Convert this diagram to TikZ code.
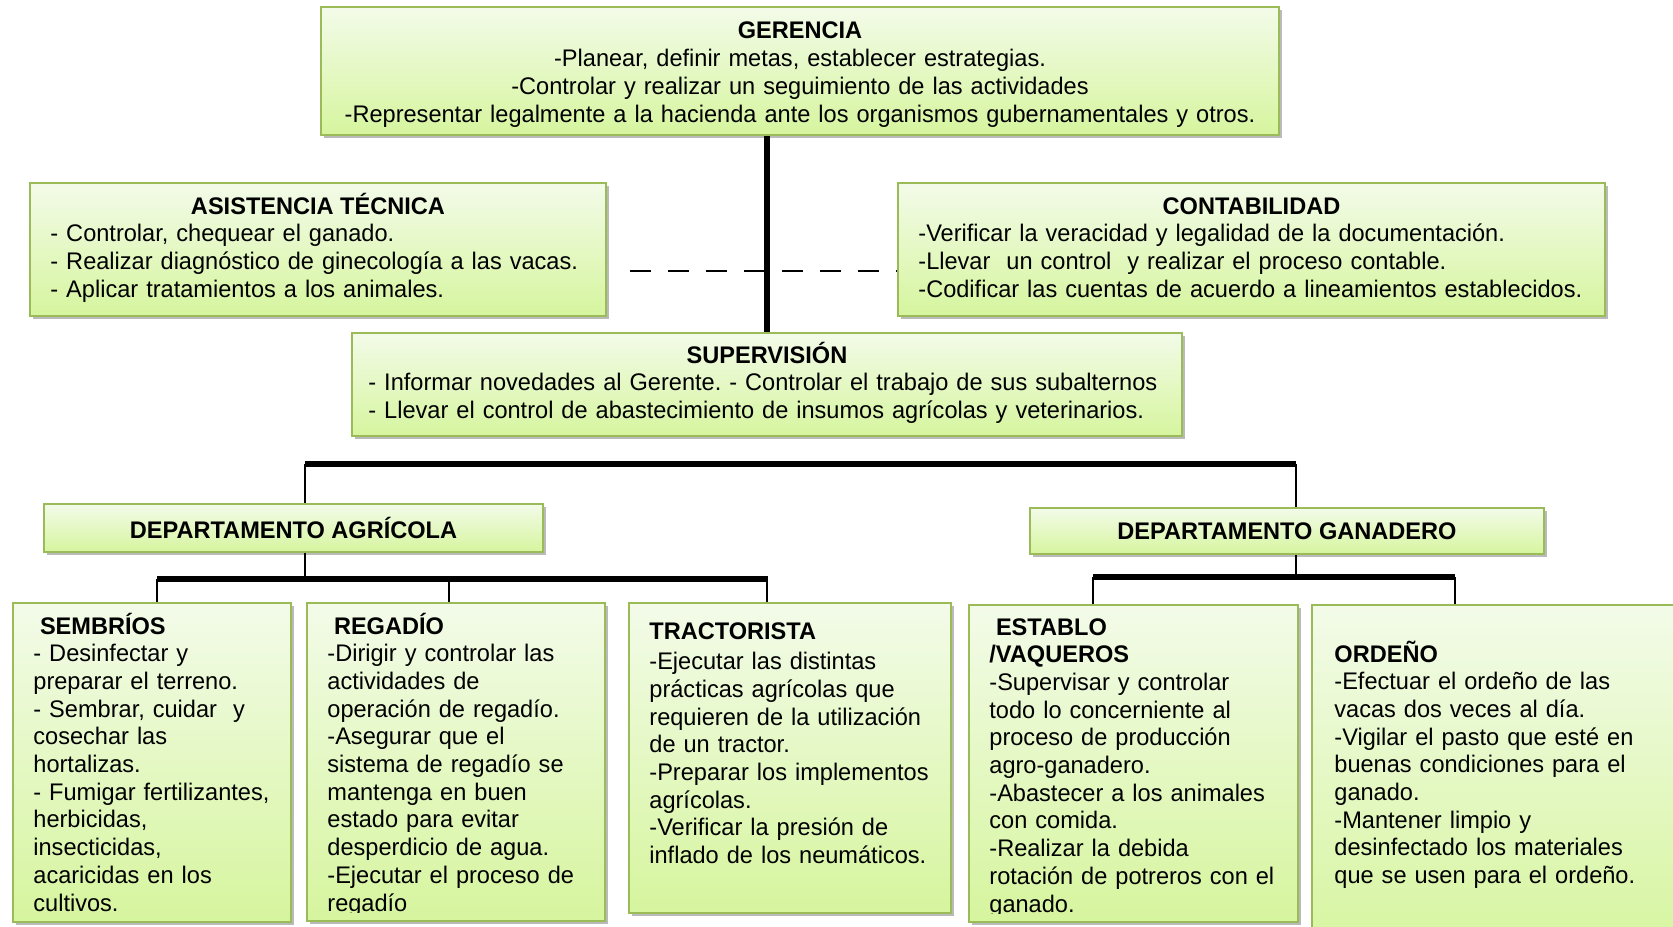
\documentclass[tikz,border=0pt]{standalone}
\usepackage{fontspec}
\setmainfont{Liberation Sans}[FakeStretch=0.982]
\usetikzlibrary{shadows}

\definecolor{bordeverde}{RGB}{155,187,89}
\definecolor{verdeclaro}{RGB}{243,251,233}
\definecolor{verdefuerte}{RGB}{214,245,158}

\tikzset{caja/.style={draw=bordeverde, line width=1pt, top color=verdeclaro,
  bottom color=verdefuerte, inner sep=0pt, anchor=north west,
  drop shadow={shadow xshift=1.5pt, shadow yshift=-1.5pt, opacity=0.45, fill=black!60}}}
\tikzset{texto/.style={inner sep=0pt, align=left, font=\fontsize{12}{13.85}\selectfont}}
\tikzset{titulo/.style={inner sep=0pt, font=\fontsize{12}{13.85}\selectfont\bfseries}}
\tikzset{tronco/.style={line width=2.6pt}}
\tikzset{rama/.style={line width=0.8pt}}
\tikzset{enlace/.style={line width=0.7pt, dash pattern=on 10.5pt off 8.5pt}}
\newcommand{\tit}[1]{\textbf{#1}}
\frenchspacing

\begin{document}
\begin{tikzpicture}[x=0.5pt,y=-0.5pt]
\useasboundingbox (0,0) rectangle (1673,926);

% cajas de arriba
\node[caja, minimum width=479pt, minimum height=64pt] (ger) at (320,6) {};
\node[caja, minimum width=288pt, minimum height=66.5pt] (asis) at (29,182) {};
\node[caja, minimum width=353.5pt, minimum height=66.5pt] (cont) at (897,182) {};
\node[caja, minimum width=415pt, minimum height=51.5pt] (sup) at (351,332) {};

% departamentos
\node[caja, minimum width=249.5pt, minimum height=24pt, font=\fontsize{12}{13.85}\selectfont\bfseries] (agr) at (43,503) {DEPARTAMENTO AGRÍCOLA};
\node[caja, minimum width=257pt, minimum height=23pt, font=\fontsize{12}{13.85}\selectfont\bfseries] (gan) at (1029,507) {DEPARTAMENTO GANADERO};

% cajas de abajo
\node[caja, minimum width=139pt, minimum height=159.5pt] (sem) at (12,602) {};
\node[caja, minimum width=149pt, minimum height=159pt] (reg) at (306,602) {};
\node[caja, minimum width=161pt, minimum height=155pt] (tra) at (628,602) {};
\node[caja, minimum width=164.5pt, minimum height=158.5pt] (est) at (968,604) {};
\node[caja, minimum width=200pt, minimum height=175pt] (ord) at (1311,604) {};

% textos
\node[texto, text width=479pt, align=center, anchor=base] (gertxt) at ([yshift=-16.5pt]ger.north)
  {\tit{GERENCIA}\\
   -Planear, definir metas, establecer estrategias.\\
   -Controlar y realizar un seguimiento de las actividades\\
   -Representar legalmente a la hacienda ante los organismos gubernamentales y otros.};

\node[titulo, anchor=base] (asistit) at ([yshift=-16pt]asis.north) {ASISTENCIA TÉCNICA};
\node[texto, text width=270pt, anchor=base west] (asistxt) at ([xshift=10.5pt,yshift=-29.85pt]asis.north west)
  {- Controlar, chequear el ganado.\\
   - Realizar diagnóstico de ginecología a las vacas.\\
   - Aplicar tratamientos a los animales.};

\node[titulo, anchor=base] (conttit) at ([yshift=-16pt]cont.north) {CONTABILIDAD};
\node[texto, text width=340pt, anchor=base west] (conttxt) at ([xshift=10.5pt,yshift=-29.85pt]cont.north west)
  {-Verificar la veracidad y legalidad de la documentación.\\
   -Llevar\ \ un control\ \ y realizar el proceso contable.\\
   -Codificar las cuentas de acuerdo a lineamientos establecidos.};

\node[titulo, anchor=base] (suptit) at ([yshift=-15.5pt]sup.north) {SUPERVISIÓN};
\node[texto, text width=405pt, anchor=base west] (suptxt) at ([xshift=8.5pt,yshift=-29.35pt]sup.north west)
  {- Informar novedades al Gerente. - Controlar el trabajo de sus subalternos\\
   - Llevar el control de abastecimiento de insumos agrícolas y veterinarios.};

\begin{scope}
\clip ([yshift=4pt]sem.south west) rectangle (sem.north east);
\node[texto, text width=130pt, anchor=base west] (semtxt) at ([xshift=10.5pt,yshift=-16pt]sem.north west)
  {\hspace*{3.3pt}\tit{SEMBRÍOS}\\
   - Desinfectar y\\
   preparar el terreno.\\
   - Sembrar, cuidar\ \ y\\
   cosechar las\\
   hortalizas.\\
   - Fumigar fertilizantes,\\
   herbicidas,\\
   insecticidas,\\
   acaricidas en los\\
   cultivos.};
\end{scope}

\begin{scope}
\clip ([yshift=5pt]reg.south west) rectangle (reg.north east);
\node[texto, text width=140pt, anchor=base west] (regtxt) at ([xshift=10.5pt,yshift=-16pt]reg.north west)
  {\hspace*{3.3pt}\tit{REGADÍO}\\
   -Dirigir y controlar las\\
   actividades de\\
   operación de regadío.\\
   -Asegurar que el\\
   sistema de regadío se\\
   mantenga en buen\\
   estado para evitar\\
   desperdicio de agua.\\
   -Ejecutar el proceso de\\
   regadío};
\end{scope}

\node[texto, text width=150pt, anchor=base west] (tratxt) at ([xshift=10.5pt,yshift=-18.5pt]tra.north west)
  {\tit{TRACTORISTA}\\[1.5pt]
   -Ejecutar las distintas\\
   prácticas agrícolas que\\
   requieren de la utilización\\
   de un tractor.\\
   -Preparar los implementos\\
   agrícolas.\\
   -Verificar la presión de\\
   inflado de los neumáticos.};

\begin{scope}
\clip ([yshift=5pt]est.south west) rectangle (est.north east);
\node[texto, text width=155pt, anchor=base west] (esttxt) at ([xshift=10.5pt,yshift=-15.5pt]est.north west)
  {\hspace*{3.3pt}\tit{ESTABLO}\\
   \tit{/VAQUEROS}\\
   -Supervisar y controlar\\
   todo lo concerniente al\\
   proceso de producción\\
   agro-ganadero.\\
   -Abastecer a los animales\\
   con comida.\\
   -Realizar la debida\\
   rotación de potreros con el\\
   ganado.};
\end{scope}

\node[texto, text width=170pt, anchor=base west] (ordtxt) at ([xshift=11.5pt,yshift=-29pt]ord.north west)
  {\tit{ORDEÑO}\\
   -Efectuar el ordeño de las\\
   vacas dos veces al día.\\
   -Vigilar el pasto que esté en\\
   buenas condiciones para el\\
   ganado.\\
   -Mantener limpio y\\
   desinfectado los materiales\\
   que se usen para el ordeño.};

% lineas
\draw[tronco] (ger.south -| sup.north) -- (sup.north);
\draw[enlace, shorten <=11.5pt] ([yshift=-10.75pt]asis.east) -- ([yshift=-10.75pt]cont.west);

\coordinate (b1) at (305,464);
\coordinate (b2) at (1296,464);
\draw[tronco] (b1) -- (b2);
\draw[rama] (b1) -- (agr.north -| b1);
\draw[rama] (b2) -- (gan.north -| b2);

\coordinate (a1) at (157,579);
\coordinate (a2) at (768,579);
\draw[rama] (agr.south -| b1) -- (b1 |- a1);
\draw[tronco] (a1) -- (a2);
\foreach \x/\c in {157/sem,449/reg,767/tra}
  \draw[rama] (\x,579) -- (\c.north -| \x,579);

\coordinate (g1) at (1093,577);
\coordinate (g2) at (1455,577);
\draw[rama] (gan.south -| b2) -- (b2 |- g1);
\draw[tronco] (g1) -- (g2);
\draw[rama] (g1) -- (est.north -| g1);
\draw[rama] (g2) -- (ord.north -| g2);

\end{tikzpicture}
\end{document}
